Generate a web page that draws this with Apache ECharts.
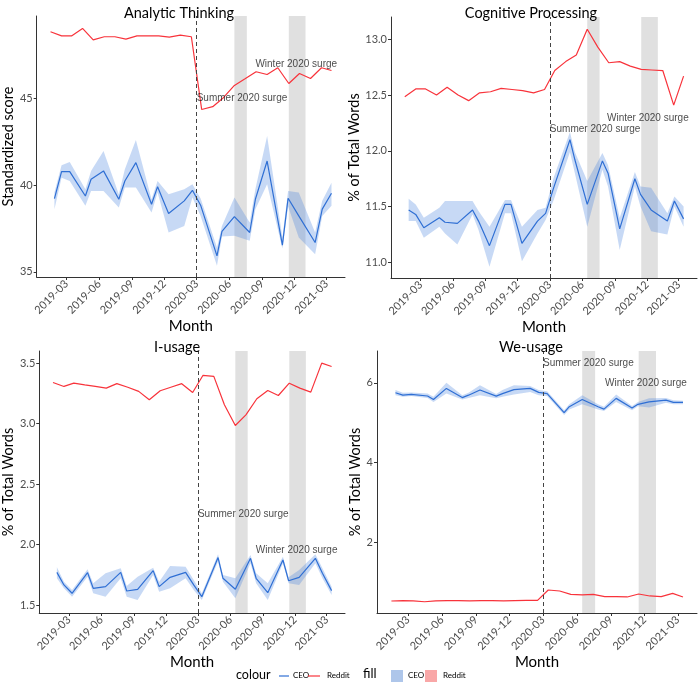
<!DOCTYPE html>
<html>
<head>
<meta charset="utf-8">
<script src="https://cdn.jsdelivr.net/npm/echarts@6/dist/echarts.min.js"></script>
<style>
  html, body { margin: 0; padding: 0; background: #fff; }
  #main { width: 699px; height: 683px; }
</style>
</head>
<body>
<div id="main"></div>
<script>
// monthly Reddit points and CEO call dates
var redditDates = ['2019-01-15','2019-02-15','2019-03-15','2019-04-15','2019-05-15','2019-06-15','2019-07-15','2019-08-15','2019-09-15','2019-10-15','2019-11-15','2019-12-15',
  '2020-01-15','2020-02-15','2020-03-15','2020-04-15','2020-05-15','2020-06-15','2020-07-15','2020-08-15','2020-09-15','2020-10-15','2020-11-15','2020-12-15',
  '2021-01-15','2021-02-15','2021-03-15'];
var ceoDates = ['2019-01-26','2019-02-15','2019-03-10','2019-04-23','2019-05-09','2019-06-13','2019-07-26','2019-08-12','2019-09-12','2019-10-26','2019-11-12','2019-12-13',
  '2020-01-26','2020-02-18','2020-03-12','2020-04-27','2020-05-11','2020-06-15','2020-07-28','2020-08-13','2020-09-15','2020-10-28','2020-11-13','2020-12-13',
  '2021-01-28','2021-02-17','2021-03-15'];

var monthTicks = ['2019-03-01','2019-06-01','2019-09-01','2019-12-01','2020-03-01','2020-06-01','2020-09-01','2020-12-01','2021-03-01'];
var xRange = ['2018-12-07', '2021-04-22'];
var pandemicStart = '2020-03-01';
var surgeBands = [['2020-06-15','2020-07-20'], ['2020-11-15','2021-01-01']];

var panelTitles = ['Analytic Thinking', 'Cognitive Processing', 'I-usage', 'We-usage'];
var yTitles = ['Standardized score', '% of Total Words', '% of Total Words', '% of Total Words'];

// Analytic Thinking
var analyticReddit = [48.87,48.63,48.63,49.06,48.40,48.58,48.58,48.44,48.63,48.63,48.63,48.56,48.67,48.58,44.38,44.54,45.06,45.77,46.15,46.56,46.40,46.79,45.88,46.46,46.17,46.79,46.63];
var analyticCeo = [39.23,40.79,40.79,39.38,40.35,40.83,39.19,40.25,41.31,38.90,39.92,38.37,39.10,39.71,38.85,35.92,37.33,38.19,37.27,39.19,41.40,36.54,39.25,38.23,36.69,38.62,39.54];
var analyticLow = [38.62,40.44,40.25,38.81,39.67,39.67,38.71,39.87,39.87,38.42,39.58,37.27,37.65,39.29,38.23,35.35,37.04,37.08,36.79,38.62,40.06,36.35,38.77,36.98,36.02,38.23,38.81];
var analyticHigh = [39.58,41.15,41.35,39.77,40.83,41.98,39.48,40.92,42.62,39.19,40.25,39.48,39.77,40.06,39.23,36.40,37.65,39.29,37.85,39.77,42.85,36.98,39.67,39.58,37.27,39.10,40.15];

// Cognitive Processing
var cogReddit = [12.486,12.555,12.555,12.50,12.57,12.50,12.45,12.52,12.53,12.56,12.55,12.54,12.52,12.55,12.72,12.80,12.86,13.09,12.93,12.79,12.80,12.76,12.73,12.725,12.72,12.41,12.67];
var cogCeo = [11.47,11.43,11.31,11.40,11.36,11.35,11.47,11.37,11.15,11.52,11.52,11.17,11.37,11.44,11.67,12.10,11.92,11.52,11.91,11.80,11.30,11.75,11.61,11.47,11.37,11.55,11.39];
var cogLow = [11.37,11.37,11.22,11.32,11.26,11.16,11.43,11.29,10.96,11.44,11.44,11.01,11.26,11.38,11.56,11.99,11.80,11.32,11.83,11.68,11.11,11.68,11.50,11.28,11.25,11.50,11.32];
var cogHigh = [11.57,11.52,11.40,11.49,11.55,11.55,11.55,11.46,11.32,11.56,11.56,11.32,11.47,11.49,11.76,12.17,11.99,11.73,11.98,11.87,11.40,11.81,11.68,11.67,11.44,11.59,11.50];

// I-usage
var iReddit = [3.34,3.307,3.334,3.32,3.307,3.293,3.33,3.30,3.266,3.197,3.271,3.30,3.33,3.257,3.398,3.39,3.155,2.984,3.072,3.205,3.274,3.232,3.334,3.293,3.26,3.50,3.472];
var iCeo = [1.770,1.666,1.597,1.768,1.638,1.652,1.770,1.616,1.630,1.784,1.652,1.729,1.770,1.666,1.569,1.892,1.721,1.630,1.886,1.721,1.602,1.872,1.701,1.729,1.886,1.762,1.619];
var iLow = [1.721,1.638,1.569,1.734,1.597,1.569,1.721,1.569,1.541,1.748,1.610,1.638,1.721,1.624,1.541,1.859,1.693,1.555,1.845,1.679,1.541,1.845,1.679,1.666,1.845,1.721,1.583];
var iHigh = [1.812,1.693,1.624,1.795,1.679,1.762,1.803,1.657,1.734,1.809,1.693,1.823,1.817,1.707,1.597,1.919,1.748,1.721,1.914,1.762,1.679,1.900,1.729,1.790,1.919,1.803,1.652];

// We-usage
var weReddit = [0.519,0.527,0.52,0.50,0.52,0.527,0.527,0.52,0.527,0.527,0.52,0.527,0.535,0.535,0.795,0.77,0.686,0.67,0.686,0.628,0.628,0.62,0.695,0.645,0.628,0.711,0.62];
var weCeo = [5.75,5.69,5.71,5.67,5.58,5.86,5.63,5.69,5.82,5.665,5.73,5.83,5.86,5.76,5.73,5.25,5.40,5.58,5.40,5.34,5.61,5.37,5.46,5.52,5.565,5.51,5.51];
var weLow = [5.69,5.65,5.67,5.62,5.52,5.73,5.58,5.62,5.69,5.61,5.65,5.71,5.77,5.69,5.67,5.19,5.33,5.46,5.33,5.29,5.52,5.31,5.41,5.38,5.50,5.46,5.46];
var weHigh = [5.82,5.75,5.76,5.73,5.65,6.00,5.69,5.75,5.94,5.72,5.82,5.94,5.92,5.82,5.79,5.31,5.46,5.69,5.46,5.40,5.71,5.42,5.52,5.61,5.62,5.56,5.55];

var yTicks = [[35, 40, 45], [11.0, 11.5, 12.0, 12.5, 13.0], [1.5, 2.0, 2.5, 3.0, 3.5], [2, 4, 6]];
var yDecimals = [0, 1, 1, 0];
var yRanges = [[34.7, 49.78], [10.86, 13.2], [1.434, 3.6], [0.217, 6.8]];

// annotation anchors: [date, y]
var summerLabel = [['2020-03-01', 45.0], ['2020-03-01', 12.19], ['2020-03-01', 2.25], ['2020-03-01', 6.49]];
var winterLabel = [['2020-08-13', 46.97], ['2020-08-10', 12.29], ['2020-08-12', 1.95], ['2020-08-16', 6.0]];

var panels = [
  { reddit: analyticReddit, ceo: analyticCeo, low: analyticLow, high: analyticHigh },
  { reddit: cogReddit, ceo: cogCeo, low: cogLow, high: cogHigh },
  { reddit: iReddit, ceo: iCeo, low: iLow, high: iHigh },
  { reddit: weReddit, ceo: weCeo, low: weLow, high: weHigh }
];

var ceoColor = '#2f6fd4';
var redditColor = '#f8333b';
var ceoFill = 'rgba(70,130,222,0.3)';
var axisFont = 'Lato';

var grids = [
  { left: 31, top: 16, width: 314, height: 261 },
  { left: 391, top: 17, width: 306, height: 261 },
  { left: 33, top: 351, width: 312, height: 262 },
  { left: 377, top: 351, width: 320, height: 262 }
];
var yNameGaps = [16, 24, 18, 9];
var titlePos = [[174, 1], [526, 1], [172, 335], [526, 335]];

function pad(n) { return n < 10 ? '0' + n : '' + n; }
function ts(d) { return +echarts.time.parse(d); }
var tickValues = monthTicks.map(ts);

// ribbon polygon: upper edge forward, lower edge backward, mapped by the axes
function ribbonRenderer(p) {
  return function (params, api) {
    if (params.dataIndex !== 0) return null;
    var pts = [];
    for (var k = 0; k < ceoDates.length; k++) pts.push(api.coord([ts(ceoDates[k]), p.high[k]]));
    for (var k2 = ceoDates.length - 1; k2 >= 0; k2--) pts.push(api.coord([ts(ceoDates[k2]), p.low[k2]]));
    return { type: 'polygon', shape: { points: pts }, style: { fill: ceoFill }, silent: true };
  };
}

var xAxes = [], yAxes = [], series = [], titles = [];
panels.forEach(function (p, i) {
  titles.push({
    text: panelTitles[i], left: titlePos[i][0], top: titlePos[i][1], textAlign: 'center',
    textStyle: { fontFamily: axisFont, fontSize: 14.5, fontWeight: 'normal', color: '#000' }
  });
  xAxes.push({
    type: 'value', gridIndex: i,
    min: ts(xRange[0]), max: ts(xRange[1]),
    name: 'Month', nameLocation: 'middle', nameGap: 35,
    nameTextStyle: { fontFamily: axisFont, fontSize: 15, color: '#000' },
    axisLine: { show: true, onZero: false, lineStyle: { color: '#333', width: 1 } },
    axisTick: { show: true, length: 3, lineStyle: { color: '#333' }, customValues: tickValues },
    axisLabel: {
      customValues: tickValues, rotate: 45, fontFamily: axisFont, fontSize: 11, color: '#4d4d4d', margin: 5,
      formatter: function (v) { var d = new Date(v); return d.getFullYear() + '-' + pad(d.getMonth() + 1); }
    },
    splitLine: { show: false }
  });
  yAxes.push({
    type: 'value', gridIndex: i,
    min: yRanges[i][0], max: yRanges[i][1],
    name: yTitles[i], nameLocation: 'middle', nameGap: yNameGaps[i],
    nameTextStyle: { fontFamily: axisFont, fontSize: 14.5, color: '#000' },
    axisLine: { show: true, onZero: false, lineStyle: { color: '#333', width: 1 } },
    axisTick: { show: true, length: 3, lineStyle: { color: '#333' }, customValues: yTicks[i] },
    axisLabel: {
      customValues: yTicks[i], fontFamily: axisFont, fontSize: 11, color: '#4d4d4d', margin: 4,
      formatter: function (v) { return v.toFixed(yDecimals[i]); }
    },
    splitLine: { show: false }
  });

  // CEO confidence ribbon + reference marks (surge bands, pandemic start)
  series.push({
    type: 'custom', xAxisIndex: i, yAxisIndex: i, silent: true, z: 2,
    data: ceoDates.map(function (d, k) { return [ts(d), p.low[k], p.high[k]]; }),
    encode: { x: 0, y: [1, 2] },
    renderItem: ribbonRenderer(p),
    markArea: {
      silent: true, itemStyle: { color: '#e0e0e0' },
      data: surgeBands.map(function (b) { return [{ xAxis: ts(b[0]) }, { xAxis: ts(b[1]) }]; })
    },
    markLine: {
      silent: true, symbol: 'none', label: { show: false },
      lineStyle: { color: '#444', type: [4, 3], width: 1 },
      data: [{ xAxis: ts(pandemicStart) }]
    }
  });
  series.push({
    name: 'CEO', type: 'line', xAxisIndex: i, yAxisIndex: i,
    data: ceoDates.map(function (d, k) { return [ts(d), p.ceo[k]]; }),
    symbol: 'none', lineStyle: { color: ceoColor, width: 1.2 }, z: 4
  });
  series.push({
    name: 'Reddit', type: 'line', xAxisIndex: i, yAxisIndex: i,
    data: redditDates.map(function (d, k) { return [ts(d), p.reddit[k]]; }),
    symbol: 'none', lineStyle: { color: redditColor, width: 1.2 }, z: 4
  });
  series.push({
    type: 'scatter', xAxisIndex: i, yAxisIndex: i, symbolSize: 0, silent: true, z: 6,
    data: [
      { value: [ts(summerLabel[i][0]), summerLabel[i][1]], name: 'Summer 2020 surge' },
      { value: [ts(winterLabel[i][0]), winterLabel[i][1]], name: 'Winter 2020 surge' }
    ],
    label: {
      show: true, position: 'right', distance: 0, formatter: '{b}',
      fontFamily: 'Liberation Sans', fontSize: 10, color: '#1a1a1a'
    }
  });
});

// legend drawn as plain graphic
var legendY = 676;
var legendGraphic = [
  { type: 'text', left: 236, top: legendY - 8, style: { text: 'colour', font: '12.5px Lato', fill: '#000' } },
  { type: 'line', shape: { x1: 279, y1: legendY, x2: 289, y2: legendY }, style: { stroke: ceoColor, lineWidth: 1.2 } },
  { type: 'text', left: 293, top: legendY - 5, style: { text: 'CEO', font: '8px Lato', fill: '#000' } },
  { type: 'line', shape: { x1: 308, y1: legendY, x2: 320, y2: legendY }, style: { stroke: redditColor, lineWidth: 1.2 } },
  { type: 'text', left: 327, top: legendY - 5, style: { text: 'Reddit', font: '8px Lato', fill: '#000' } },
  { type: 'text', left: 363, top: legendY - 9, style: { text: 'fill', font: '13px Lato', fill: '#000' } },
  { type: 'rect', shape: { x: 391, y: legendY - 6, width: 12, height: 12 }, style: { fill: '#aec6ea' } },
  { type: 'text', left: 408, top: legendY - 5, style: { text: 'CEO', font: '8px Lato', fill: '#000' } },
  { type: 'rect', shape: { x: 425, y: legendY - 6, width: 12, height: 12 }, style: { fill: '#f9a7a7' } },
  { type: 'text', left: 443, top: legendY - 5, style: { text: 'Reddit', font: '8px Lato', fill: '#000' } }
];

var chart = echarts.init(document.getElementById('main'), null, { renderer: 'canvas' });
var option = {
  backgroundColor: '#fff',
  animation: false,
  title: titles,
  grid: grids,
  xAxis: xAxes,
  yAxis: yAxes,
  series: series,
  graphic: legendGraphic
};
chart.setOption(option);
window.addEventListener('resize', function () { chart.resize(); });
</script>
</body>
</html>
